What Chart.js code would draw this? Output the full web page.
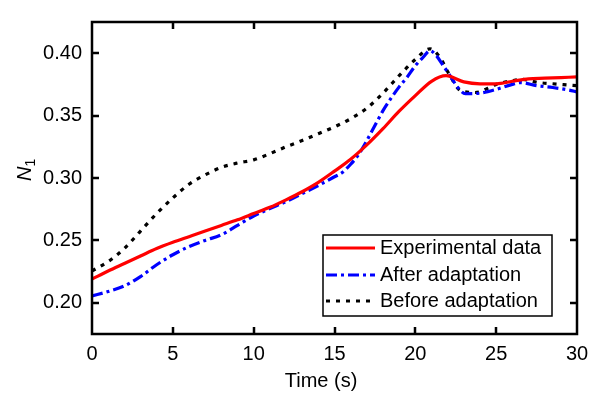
<!DOCTYPE html>
<html>
<head>
<meta charset="utf-8">
<script src="https://cdn.jsdelivr.net/npm/chart.js@4.4.1/dist/chart.umd.min.js"></script>
<style>
html,body{margin:0;padding:0;background:#fff;}
#wrap{width:600px;height:394px;position:relative;}
</style>
</head>
<body>
<div id="wrap"><canvas id="c"></canvas></div>
<script>
/* N1 vs time — experimental vs model */
const xTicks=[0,5,10,15,20,25,30];
const yTicks=[0.20,0.25,0.30,0.35,0.40];

const expT=[0,1,2,3,4,5,6,7,8,9,10,11,12,13,14,15,16,17,18,19,20,21,21.9,23,24,25,26,27,28,29,30];
const expN=[0.219,0.2255,0.2315,0.2375,0.2435,0.2485,0.253,0.2575,0.262,0.2665,0.2715,0.2765,0.2825,0.289,0.2965,0.3055,0.315,0.3265,0.3395,0.3535,0.366,0.3775,0.382,0.377,0.3755,0.3755,0.3775,0.3795,0.380,0.3805,0.381];

const afterT=[0,1,2,3,4,5,6,7,8,9,10,11,12,13,14,15,15.5,16,16.5,17,17.5,18,18.5,19,19.5,20,20.5,20.9,21.3,21.7,22.2,22.6,23.1,24,25,26,26.5,27.5,28.5,29.5,30];
const afterN=[0.2055,0.209,0.2135,0.221,0.2305,0.2385,0.245,0.250,0.2545,0.262,0.2695,0.2755,0.281,0.2875,0.294,0.301,0.3046,0.311,0.319,0.330,0.342,0.354,0.364,0.373,0.381,0.390,0.397,0.402,0.398,0.3905,0.381,0.373,0.3675,0.368,0.371,0.375,0.3765,0.374,0.3725,0.3705,0.369];

const beforeT=[0,1,2,3,4,5,6,7,8,9,10,11,12,13,14,15,16,17,18,19,20,20.9,21.5,22.1,22.8,23.7,25,26,26.6,27.6,28.5,29.5,30];
const beforeN=[0.2255,0.233,0.2435,0.2575,0.2715,0.284,0.295,0.3025,0.3085,0.312,0.3145,0.3195,0.325,0.330,0.3355,0.341,0.3475,0.356,0.368,0.382,0.395,0.4035,0.397,0.383,0.370,0.3685,0.375,0.378,0.379,0.3765,0.3755,0.3745,0.374];

function pts(t,v){return t.map((x,i)=>({x:x,y:v[i]}));}

const FONT='Arial, "Liberation Sans", sans-serif';

// frame, inward ticks, axis titles and the boxed legend
const decor={id:'decor',afterDraw(ch){
  const c=ch.ctx,a=ch.chartArea,xs=ch.scales.x,ys=ch.scales.y;
  c.save();
  c.strokeStyle='#000';c.lineWidth=2.5;
  c.strokeRect(a.left,a.top,a.right-a.left,a.bottom-a.top);
  c.beginPath();
  xTicks.forEach(v=>{const p=Math.round(xs.getPixelForValue(v));
    if(v===xTicks[0]||v===xTicks[xTicks.length-1])return;
    c.moveTo(p,a.bottom);c.lineTo(p,a.bottom-7);c.moveTo(p,a.top);c.lineTo(p,a.top+7);});
  yTicks.forEach(v=>{const p=Math.round(ys.getPixelForValue(v));
    c.moveTo(a.left,p);c.lineTo(a.left+7,p);c.moveTo(a.right,p);c.lineTo(a.right-7,p);});
  c.stroke();
  // axis titles
  c.fillStyle='#000';c.textBaseline='alphabetic';
  c.font='20px '+FONT;c.textAlign='center';
  c.fillText('Time (s)',321,387);
  c.translate(31,181);c.rotate(-Math.PI/2);
  c.textAlign='left';c.font='italic 20px '+FONT;
  c.fillText('N',0,0);
  const w=c.measureText('N').width;
  c.font='14px '+FONT;c.fillText('1',w,4);
  c.restore();
  // legend
  c.save();
  const L=323,T=235,W=229,H=81;
  c.fillStyle='#fff';c.fillRect(L,T,W,H);
  c.strokeStyle='#000';c.lineWidth=1.5;c.strokeRect(L,T,W,H);
  const rows=[248,275,301];
  ch.data.datasets.forEach((d,i)=>{
    const y=rows[i];
    c.strokeStyle=d.borderColor;c.lineWidth=3;c.setLineDash(d.borderDash||[]);
    c.beginPath();c.moveTo(326,y);c.lineTo(375,y);c.stroke();
    c.setLineDash([]);
    c.fillStyle='#000';c.font='20px '+FONT;c.textAlign='left';c.textBaseline='middle';
    c.fillText(d.label,380,y);
  });
  c.restore();
}};

new Chart(document.getElementById('c'),{
  type:'line',
  data:{datasets:[
    {label:'Experimental data',data:pts(expT,expN),borderColor:'#ff0000',borderWidth:3.2,pointRadius:0,fill:false,tension:0.4,cubicInterpolationMode:'monotone'},
    {label:'After adaptation',data:pts(afterT,afterN),borderColor:'#0000ff',borderWidth:3.2,pointRadius:0,fill:false,borderDash:[11,4,3,4],tension:0.4,cubicInterpolationMode:'monotone'},
    {label:'Before adaptation',data:pts(beforeT,beforeN),borderColor:'#000000',borderWidth:3.2,pointRadius:0,fill:false,borderDash:[4,6],tension:0.4,cubicInterpolationMode:'monotone'}
  ]},
  options:{responsive:true,maintainAspectRatio:false,animation:false,
    layout:{padding:{left:0,right:23,top:9,bottom:0}},
    scales:{
      x:{type:'linear',min:0,max:30,
        afterBuildTicks:s=>{s.ticks=xTicks.map(v=>({value:v}));},
        afterFit:s=>{s.height=60;},
        grid:{display:false,drawTicks:false},border:{display:false},
        ticks:{color:'#000',font:{size:20,family:FONT},padding:8,maxRotation:0}},
      y:{type:'linear',min:0.175,max:0.425,
        afterBuildTicks:s=>{s.ticks=yTicks.map(v=>({value:v}));},
        afterFit:s=>{s.width=92;},
        grid:{display:false,drawTicks:false},border:{display:false},
        ticks:{color:'#000',font:{size:20,family:FONT},padding:10,callback:v=>v.toFixed(2)}}
    },
    plugins:{legend:{display:false},tooltip:{enabled:false}}
  },
  plugins:[decor]
});
</script>
</body>
</html>
